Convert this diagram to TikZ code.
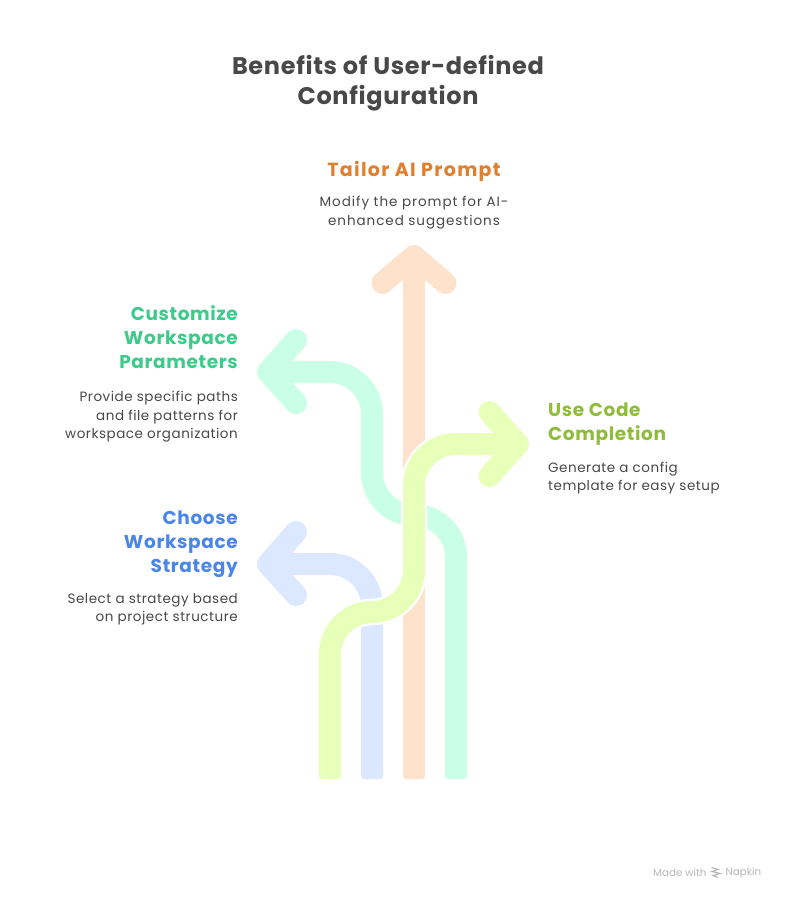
\documentclass[tikz,border=0pt]{standalone}
\usepackage{fontspec}
\setmainfont{Poppins}
\definecolor{cOrange}{HTML}{FFE2CC}
\definecolor{cMint}{HTML}{C8FFE6}
\definecolor{cLime}{HTML}{E8FFBA}
\definecolor{cBlue}{HTML}{DCE8FF}
\definecolor{tOrange}{HTML}{E07F2E}
\definecolor{tMint}{HTML}{3CCB8A}
\definecolor{tLime}{HTML}{8FBC3A}
\definecolor{tBlue}{HTML}{4A86E8}
\definecolor{tDark}{HTML}{484848}
\newfontfamily\titlefont[LetterSpace=2.8]{Poppins}
\newfontfamily\headfont[LetterSpace=3.5]{Poppins}
\newfontfamily\tailorfont[LetterSpace=7]{Poppins}
\newfontfamily\descfont[LetterSpace=4]{Poppins}
\newfontfamily\descwide[LetterSpace=7]{Poppins}
\tikzset{
  x=1pt,y=-1pt,
  band/.style={line width=22pt,line join=round,rounded corners=42pt},
  wing/.style={line width=22pt,line join=round,line cap=round},
  casing/.style={line width=26.5pt,white,rounded corners=42pt},
  foot/.style={rounded corners=3pt},
  heading/.style={font=\titlefont\fontsize{24}{30}\selectfont\bfseries,align=center},
  headC/.style={font=\tailorfont\fontsize{19}{24}\selectfont\bfseries,align=center},
  headL/.style={font=\headfont\fontsize{18.5}{24}\selectfont\bfseries,align=right,anchor=east,inner sep=0pt},
  headR/.style={font=\headfont\fontsize{18.5}{24}\selectfont\bfseries,align=left,anchor=west,inner sep=0pt},
  descL/.style={font=\descfont\fontsize{13.5}{18.5}\selectfont,text=tDark,align=right,anchor=east,inner sep=0pt},
  descR/.style={font=\descfont\fontsize{13.5}{18.5}\selectfont,text=tDark,align=left,anchor=west,inner sep=0pt},
  descC/.style={font=\descwide\fontsize{13.5}{18.5}\selectfont,text=tDark,align=center},
  credit/.style={font=\fontsize{10.3}{13}\selectfont,text=black!28,anchor=west,inner sep=0pt},
}
\begin{document}
\begin{tikzpicture}
\useasboundingbox (0,0) rectangle (785,900);
\fill[white] (0,0) rectangle (785,900);
% blue
\draw[band,cBlue] (372,775) -- (372,564) -- (268,564);
\draw[wing,cBlue] (296,532) -- (268,564) -- (296,595);
\fill[foot,cBlue] (361,770) rectangle (383,779);
% orange
\draw[line width=22pt,cOrange] (414,775) -- (414,256);
\draw[wing,cOrange] (382.5,283) -- (414,256) -- (445.5,283);
\fill[foot,cOrange] (403,770) rectangle (425,779);
% mint
\draw[band,cMint] (456,775) -- (456,515) -- (372,515) -- (372,372) -- (268,372);
\draw[wing,cMint] (296,340) -- (268,372) -- (296,403);
\fill[foot,cMint] (445,770) rectangle (467,779);
% lime casing
\draw[casing] (330,775) -- (330,612) -- (414,612) -- (414,444) -- (480,444);
% lime
\draw[band,cLime] (330,775) -- (330,612) -- (414,612) -- (414,444) -- (518,444);
\draw[wing,cLime] (489.5,412) -- (518,444) -- (489.5,476);
\fill[foot,cLime] (319,770) rectangle (341,779);
% texts
\node[heading,text=tDark] (title) at (388,83) {Benefits of User-defined\\Configuration};
\node[headC,text=tOrange] (tailor) at (414,171) {Tailor AI Prompt};
\node[descC] (tailorD) at (414,212.5) {Modify the prompt for AI-\\enhanced suggestions};
\node[headL,text=tMint] (cust) at (238,337.5) {Customize\\Workspace\\Parameters};
\node[descL] (custD) at (238,417) {Provide specific paths\\and file patterns for\\workspace organization};
\node[headR,text=tLime] (code) at (548,424.5) {Use Code\\Completion};
\node[descR] (codeD) at (548,478) {Generate a config\\template for easy setup};
\node[headL,text=tBlue] (choose) at (238,544.5) {Choose\\Workspace\\Strategy};
\node[descL] (chooseD) at (238,609.5) {Select a strategy based\\on project structure};
\node[credit] (made) at (653,873) {Made with};
\node[credit] (napkin) at (725.5,873) {Napkin};
\draw[black!28,line width=1.2pt] (711.5,867.5) -- (718,869.5) -- (712,871.5) -- (720,873.5) -- (713,875.5) -- (718,877.5);
\end{tikzpicture}
\end{document}
